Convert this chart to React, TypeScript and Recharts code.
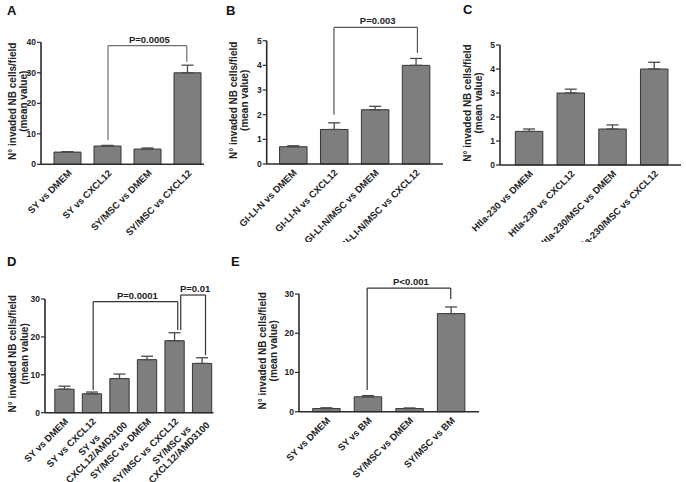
import React from 'react'
import { Bar, BarChart, ErrorBar, ReferenceLine, XAxis, YAxis } from 'recharts'

// panel A
const catsA = [['SY vs DMEM'], ['SY vs CXCL12'], ['SY/MSC vs DMEM'], ['SY/MSC vs CXCL12']]
const meanA = [4, 6, 5, 30]
const errA = [0.15, 0.2, 0.35, 2.5]
const ticksA = [0, 10, 20, 30, 40]

// panel B
const catsB = [['GI-LI-N vs DMEM'], ['GI-LI-N vs CXCL12'], ['GI-LI-N/MSC vs DMEM'], ['GI-LI-N/MSC vs CXCL12']]
const meanB = [0.7, 1.4, 2.2, 4.0]
const errB = [0.04, 0.27, 0.14, 0.28]
const ticksB = [0, 1, 2, 3, 4, 5]

// panel C
const catsC = [['Htla-230 vs DMEM'], ['Htla-230 vs CXCL12'], ['Htla-230/MSC vs DMEM'], ['Htla-230/MSC vs CXCL12']]
const meanC = [1.4, 3.0, 1.5, 4.0]
const errC = [0.1, 0.16, 0.17, 0.28]
const ticksC = [0, 1, 2, 3, 4, 5]

// panel D
const catsD = [
  ['SY vs DMEM'],
  ['SY vs CXCL12'],
  ['SY vs', 'CXCL12/AMD3100'],
  ['SY/MSC vs DMEM'],
  ['SY/MSC vs CXCL12'],
  ['SY/MSC vs', 'CXCL12/AMD3100'],
]
const meanD = [6.2, 5, 9, 14, 19, 13]
const errD = [0.8, 0.45, 1.2, 0.9, 2.1, 1.5]
const ticksD = [0, 10, 20, 30]

// panel E
const catsE = [['SY vs DMEM'], ['SY vs BM'], ['SY/MSC vs DMEM'], ['SY/MSC vs BM']]
const meanE = [0.8, 3.8, 0.8, 25]
const errE = [0.2, 0.3, 0.15, 1.7]
const ticksE = [0, 10, 20, 30]

// significance brackets: leg positions (category index), leg ends and top (y value)
const bracketsA = [{ x1: 1, x2: 2.97, y1: 8, y2: 33.6, top: 38.9, text: 'P=0.0005' }]
const bracketsB = [{ x1: 1, x2: 3.04, y1: 2.0, y2: 4.5, top: 5.54, text: 'P=0.003' }]
const bracketsD = [
  { x1: 1.04, x2: 4.11, y1: 6.0, y2: 21.8, top: 29.3, text: 'P=0.0001' },
  { x1: 4.22, x2: 5.12, y1: 21.8, y2: 15.2, top: 31.05, text: 'P=0.01' },
]
const bracketsE = [{ x1: 0.98, x2: 2.99, y1: 5.5, y2: 28.7, top: 31.5, text: 'P<0.001' }]

const FONT = "'Liberation Sans', Arial, Helvetica, sans-serif"
const AXIS = '#2b2b2b'
const TICK_PX = 9.5

let measureCtx: CanvasRenderingContext2D | null = null
const textWidth = (s: string) => {
  if (!measureCtx) measureCtx = document.createElement('canvas').getContext('2d')
  if (!measureCtx) return s.length * 5.5
  measureCtx.font = `bold ${TICK_PX}px ${FONT}`
  return measureCtx.measureText(s).width
}

const SlantTick = (props: any) => {
  const { x, y, payload, labels } = props
  const lines: string[] = labels[payload.value] ?? []
  const maxW = Math.max(...lines.map(textWidth))
  const lh = 10.5
  return (
    <g transform={`translate(${x + 2},${y + 7}) rotate(-45)`}>
      <text fontSize={TICK_PX} fontWeight="bold" fontFamily={FONT} fill="#222" textAnchor="middle">
        {lines.map((l, i) => (
          <tspan key={i} x={-maxW / 2} y={(i - (lines.length - 1) / 2) * lh} dy="0.35em">
            {l}
          </tspan>
        ))}
      </text>
    </g>
  )
}

const YTitle = (props: any) => {
  const vb = props.viewBox || {}
  const plotLeft = vb.x + vb.width
  const cy = vb.y + vb.height / 2 - 2
  const [d1, d2] = props.offsets
  const common = { fontSize: 10, fontWeight: 'bold', fontFamily: FONT, fill: '#222', textAnchor: 'middle' as const }
  return (
    <g>
      <text {...common} transform={`translate(${plotLeft - d1 + 2.5},${cy}) rotate(-90)`}>
        N° invaded NB cells/field
      </text>
      <text {...common} transform={`translate(${plotLeft - d2 + 2.5},${cy}) rotate(-90)`}>
        (mean value)
      </text>
    </g>
  )
}

const BracketLabel = (props: any) => {
  const vb = props.viewBox || {}
  return (
    <text
      x={vb.x + vb.width / 2 + 2}
      y={vb.y - 3}
      fontSize={9.5}
      fontWeight="bold"
      fontFamily={FONT}
      fill="#222"
      textAnchor="middle"
    >
      {props.text}
    </text>
  )
}

type Bracket = { x1: number; x2: number; y1: number; y2: number; top: number; text: string }

type PanelProps = {
  left: number
  top: number
  width: number
  height: number
  margin: { top: number; right: number; bottom: number; left: number }
  labels: string[][]
  means: number[]
  errors: number[]
  yTicks: number[]
  xDomain: [number, number]
  barSize: number
  titleOffsets: [number, number]
  brackets?: Bracket[]
  bracketColor?: string
}

const Panel = (p: PanelProps) => {
  const rows = p.labels.map((_, i) => ({ idx: i, mean: p.means[i], err: [0, p.errors[i]] }))
  const col = p.bracketColor ?? '#444'
  return (
    <div style={{ position: 'absolute', left: p.left, top: p.top, width: p.width, height: p.height }}>
      <BarChart width={p.width} height={p.height} data={rows} margin={p.margin} barSize={p.barSize}>
        <XAxis
          type="number"
          dataKey="idx"
          domain={p.xDomain}
          ticks={p.labels.map((_, i) => i)}
          interval={0}
          allowDataOverflow
          tickLine={false}
          tickSize={0}
          tickMargin={0}
          height={30}
          axisLine={{ stroke: AXIS, strokeWidth: 1.6 }}
          tick={(t: any) => <SlantTick {...t} labels={p.labels} />}
        />
        <YAxis
          type="number"
          domain={[0, p.yTicks[p.yTicks.length - 1]]}
          ticks={p.yTicks}
          interval={0}
          width={30}
          tickSize={4}
          tickMargin={1}
          tickLine={{ stroke: AXIS, strokeWidth: 1.2 }}
          axisLine={{ stroke: AXIS, strokeWidth: 1.6 }}
          tick={{ fontSize: 8.5, fontWeight: 'bold', fill: '#222', fontFamily: FONT }}
          label={(lp: any) => <YTitle {...lp} offsets={p.titleOffsets} />}
        />
        <Bar dataKey="mean" fill="#7e7e7e" stroke="#363636" strokeWidth={1} isAnimationActive={false}>
          <ErrorBar dataKey="err" width={6} stroke="#4a4a4a" strokeWidth={1.3} direction="y" isAnimationActive={false} />
        </Bar>
        {(p.brackets ?? []).flatMap((b, k) => [
          <ReferenceLine
            key={`l${k}`}
            segment={[{ x: b.x1, y: b.y1 }, { x: b.x1, y: b.top }]}
            stroke={col}
            strokeWidth={1.2}
            ifOverflow="visible"
          />,
          <ReferenceLine
            key={`t${k}`}
            segment={[{ x: b.x1, y: b.top }, { x: b.x2, y: b.top }]}
            stroke={col}
            strokeWidth={1.2}
            ifOverflow="visible"
            label={(lp: any) => <BracketLabel {...lp} text={b.text} />}
          />,
          <ReferenceLine
            key={`r${k}`}
            segment={[{ x: b.x2, y: b.top }, { x: b.x2, y: b.y2 }]}
            stroke={col}
            strokeWidth={1.2}
            ifOverflow="visible"
          />,
        ])}
      </BarChart>
    </div>
  )
}

const Letters = () => {
  const st = { fontSize: 13, fontWeight: 'bold', fontFamily: FONT, fill: '#111' }
  return (
    <svg width={686} height={482} style={{ position: 'absolute', left: 0, top: 0 }}>
      <text x={7} y={15} {...st}>A</text>
      <text x={226} y={15} {...st}>B</text>
      <text x={463} y={14} {...st}>C</text>
      <text x={7} y={266} {...st}>D</text>
      <text x={231} y={266} {...st}>E</text>
    </svg>
  )
}

export default function App() {
  return (
    <div style={{ position: 'absolute', left: 0, top: 0, width: 686, height: 482, background: '#fff' }}>
      <Letters />
      <Panel
        left={0} top={0} width={225} height={242}
        margin={{ top: 42.3, right: 21, bottom: 47.7, left: 11 }}
        labels={catsA} means={meanA} errors={errA} yTicks={ticksA}
        xDomain={[-0.675, 3.4]} barSize={27} titleOffsets={[28, 17]}
        brackets={bracketsA} bracketColor="#6e6e6e"
      />
      <Panel
        left={225} top={0} width={232} height={242}
        margin={{ top: 40.7, right: 14, bottom: 48, left: 11.7 }}
        labels={catsB} means={meanB} errors={errB} yTicks={ticksB}
        xDomain={[-0.643, 3.665]} barSize={27.5} titleOffsets={[32, 21]}
        brackets={bracketsB} bracketColor="#555"
      />
      <Panel
        left={455} top={0} width={231} height={242}
        margin={{ top: 45, right: 5, bottom: 47, left: 15 }}
        labels={catsC} means={meanC} errors={errC} yTicks={ticksC}
        xDomain={[-0.7, 3.64]} barSize={27.5} titleOffsets={[32, 21]}
      />
      <Panel
        left={0} top={242} width={230} height={240}
        margin={{ top: 57, right: 16.5, bottom: 39.3, left: 15 }}
        labels={catsD} means={meanD} errors={errD} yTicks={ticksD}
        xDomain={[-0.71, 5.41]} barSize={19.3} titleOffsets={[32, 20]}
        brackets={bracketsD} bracketColor="#333"
      />
      <Panel
        left={230} top={242} width={260} height={240}
        margin={{ top: 52, right: 11, bottom: 40.3, left: 39 }}
        labels={catsE} means={meanE} errors={errE} yTicks={ticksE}
        xDomain={[-0.66, 3.67]} barSize={27.5} titleOffsets={[36, 25]}
        brackets={bracketsE} bracketColor="#333"
      />
    </div>
  )
}
